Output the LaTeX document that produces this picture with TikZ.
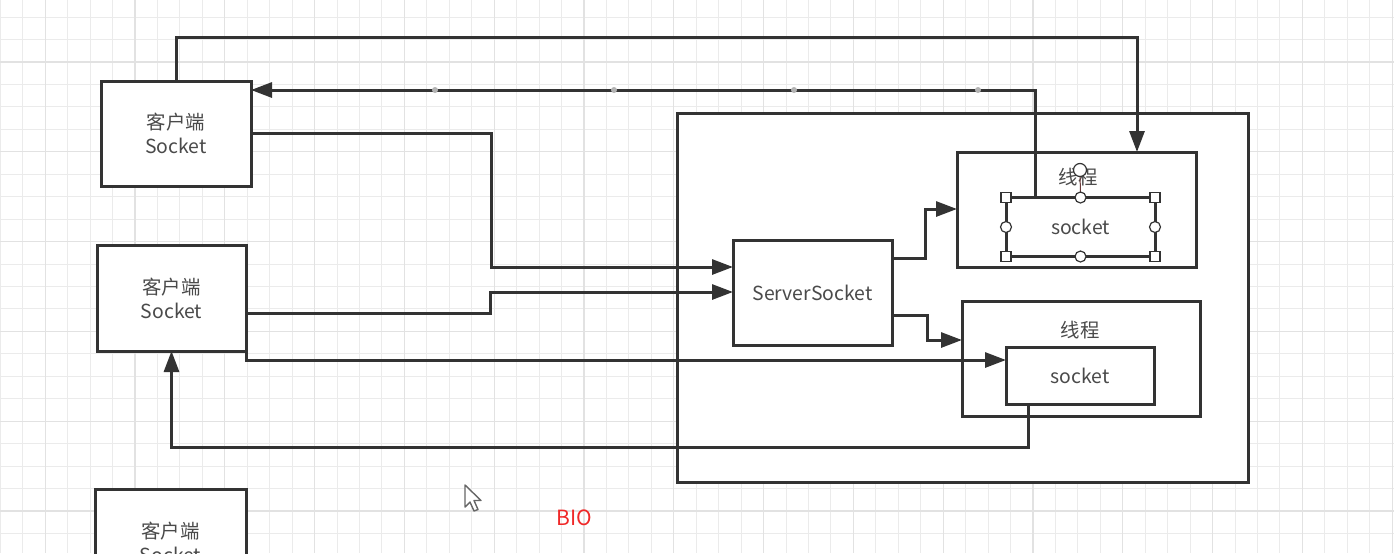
\documentclass[tikz,border=0pt]{standalone}
\usepackage{fontspec}
\setmainfont{Noto Sans CJK SC}
\usetikzlibrary{arrows.meta}
\definecolor{ln}{HTML}{333333}
\definecolor{tx}{HTML}{4A4A4A}
\definecolor{gmin}{HTML}{EBEBEB}
\definecolor{gmaj}{HTML}{E2E2E2}
\definecolor{selc}{HTML}{6A3A3A}
\definecolor{bio}{HTML}{F02828}
\tikzset{
  box/.style={draw=ln, line width=1.5pt, fill=white, inner sep=0pt, outer sep=0pt, font=\fontsize{9.7pt}{12pt}\selectfont, text=tx, align=center},
  lbl/.style={inner sep=0pt, font=\fontsize{9.7pt}{12pt}\selectfont, text=tx},
  arr/.style={draw=ln, line width=1.5pt, -{Triangle[length=10.5pt,width=7.5pt]}},
  hsq/.style={draw=ln, line width=0.6pt, fill=white, minimum size=5pt, inner sep=0pt},
  hci/.style={draw=ln, line width=0.6pt, fill=white, circle, minimum size=5.5pt, inner sep=0pt},
  wdot/.style={circle, fill=gray!60, inner sep=0pt, minimum size=3pt}
}
\begin{document}
\begin{tikzpicture}[x=0.5pt,y=-0.5pt]
\useasboundingbox (0,0) rectangle (1394,553);
\clip (0,0) rectangle (1394,553);
\fill[white] (0,0) rectangle (1394,553);
% grid
\foreach \i in {0,...,62} {
  \pgfmathsetmacro{\xx}{0.3+22.45*\i}
  \draw[gmin, line width=0.5pt] (\xx,0) -- (\xx,553);
}
\foreach \i in {0,...,24} {
  \pgfmathsetmacro{\yy}{17.1+22.45*\i}
  \draw[gmin, line width=0.5pt] (0,\yy) -- (1394,\yy);
}
\foreach \i in {-1,...,14} {
  \pgfmathsetmacro{\xx}{135+89.8*\i}
  \draw[gmaj, line width=0.6pt] (\xx,0) -- (\xx,553);
}
\foreach \i in {0,...,5} {
  \pgfmathsetmacro{\yy}{62+89.8*\i}
  \draw[gmaj, line width=0.6pt] (0,\yy) -- (1394,\yy);
}
% boxes
\node[box, minimum width=75pt, minimum height=52.5pt] (c1) at (176,133.5) {客户端\\Socket};
\node[box, minimum width=74.5pt, minimum height=53pt] (c2) at (171.5,298) {客户端\\Socket};
\node[box, minimum width=75.5pt, minimum height=53pt] (c3) at (170.5,542) {客户端\\Socket};
\node[box, minimum width=285.5pt, minimum height=184.5pt] (srv) at (962.5,297.5) {};
\node[box, minimum width=79.5pt, minimum height=52.5pt] (ss) at (812.5,292.5) {ServerSocket};
\node[box, minimum width=119.5pt, minimum height=57.5pt] (t1) at (1076.5,209.5) {};
\node[box, minimum width=119pt, minimum height=57.5pt] (t2) at (1081,358.5) {};
\node[lbl] (t1l) at (1078,177) {线程};
\node[lbl] (t2l) at (1080,330) {线程};
\node[box, minimum width=74.5pt, minimum height=29.5pt] (s1) at (1080.5,227) {socket};
\node[box, minimum width=74pt, minimum height=28.5pt] (s2) at (1080,375.5) {socket};
% bend points
\coordinate (k1) at (1137,37);
\coordinate (k2) at (1035,90);
\coordinate (a3) at (491,133);
\coordinate (b3) at (491,267);
\coordinate (a4) at (490,313);
\coordinate (b4) at (490,292);
\coordinate (a5) at (246,360);
\coordinate (a6) at (1028,447);
\coordinate (a7) at (925,258);
\coordinate (b7) at (925,209);
\coordinate (a8) at (927,315);
\coordinate (b8) at (927,340);
% connectors
\draw[arr] (c1.north) |- (k1) -- (k1 |- t1.north);
\draw[arr] (s1.north -| k2) -- (k2) -- (c1.east |- k2);
\draw[arr] (c1.east |- a3) -- (a3) -- (b3) -- (ss.west |- b3);
\draw[arr] (c2.east |- a4) -- (a4) -- (b4) -- (ss.west |- b4);
\draw[arr] (c2.south east) -- (a5) -- (s2.west |- a5);
\draw[arr] (s2.south -| a6) -- (a6) -- (a6 -| c2.south) -- (c2.south);
\draw[arr] (ss.east |- a7) -- (a7) -- (b7) -- (t1.west |- b7);
\draw[arr] (ss.east |- a8) -- (a8) -- (b8) -- (t2.west |- b8);
% waypoint dots on return line
\foreach \xx in {435,614,794,978} \node[wdot] at (\xx,90) {};
% selection handles on the upper socket
\draw[selc, line width=0.5pt] (s1.north) -- (1080,170);
\node[hci, minimum size=6.5pt] (rot) at (1080,170) {};
\node[hsq] at (s1.north west) {};
\node[hsq] at (s1.north east) {};
\node[hsq] at (s1.south west) {};
\node[hsq] at (s1.south east) {};
\node[hci] at (s1.north) {};
\node[hci] at (s1.south) {};
\node[hci] at (s1.west) {};
\node[hci] at (s1.east) {};
% mouse cursor
\draw[gray!80!black, line width=0.7pt, fill=white, line join=round]
  (465,485) -- (465,507) -- (470,502) -- (474,511) -- (478,509.5) -- (474,500.5) -- (481,500.5) -- cycle;
% caption
\node[inner sep=0pt, text=bio, font=\fontsize{10.5pt}{12pt}\selectfont] (bio) at (574,518) {BIO};
\end{tikzpicture}
\end{document}
